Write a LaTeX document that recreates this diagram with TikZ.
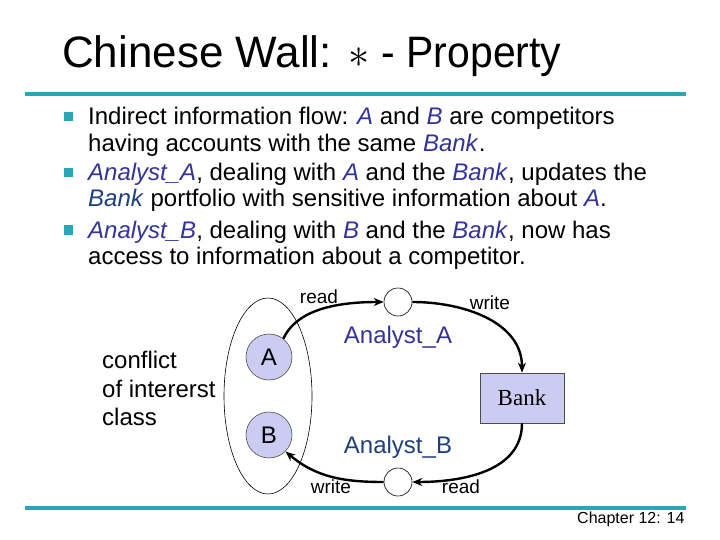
\documentclass[tikz,border=0pt]{standalone}
\usepackage{fontspec}
\setmainfont{Liberation Sans}
\newfontfamily\serifbank{Liberation Serif}
\usetikzlibrary{arrows.meta}
\definecolor{tealline}{HTML}{2AA6B6}
\definecolor{italblue}{HTML}{333399}
\definecolor{navyblue}{HTML}{1F3F7F}
\definecolor{lav}{HTML}{CCCCF2}
\newcommand\emc[1]{\textcolor{italblue}{\textit{#1}}}
\newcommand\emn[1]{\textcolor{navyblue}{\textit{#1}}}
\begin{document}
\begin{tikzpicture}[x=1pt,y=-1pt,
  txt/.style={anchor=base west,inner sep=0pt,font=\fontsize{24}{27}\selectfont},
  lbl/.style={anchor=base,inner sep=0pt,font=\fontsize{19}{22}\selectfont},
  bul/.style={fill=tealline,minimum size=9pt,inner sep=0pt},
  rule/.style={tealline,line width=4pt},
  ent/.style={circle,draw=black!70,line width=0.6pt,fill=lav,minimum size=46pt,inner sep=0pt,font=\fontsize{24}{27}\selectfont},
  smallc/.style={circle,draw=black,line width=0.6pt,fill=white,minimum size=28pt,inner sep=0pt},
  arr/.style={line width=2.4pt,-{Stealth[length=10pt,width=8pt]}}]
\useasboundingbox (0,0) rectangle (720,540);
\fill[white] (0,0) rectangle (720,540);
% title and rules
\node[anchor=base west,inner sep=0pt,font=\fontsize{44}{50}\selectfont] (title) at (62,68) {Chinese Wall: \raisebox{0.5pt}{\scalebox{1.7}{$\ast$}} \scalebox{0.93}[1]{- Property}};
\draw[rule] (25,94.5) -- (686,94.5);
\draw[rule] (25,507.5) -- (686,507.5);
% bullets
\node[bul] (b1) at (68.5,117) {};
\node[bul] (b2) at (68.5,173) {};
\node[bul] (b3) at (68.5,230) {};
\node[txt] (l1) at (88,125) {Indirect information flow: \emc{A} and \emc{B} are competitors};
\node[txt] (l2) at (88,152) {having accounts with the same \emc{Bank}.};
\node[txt] (l3) at (88,181) {\emc{Analyst\_A}, dealing with \emc{A} and the \emc{Bank}, updates the};
\node[txt] (l4) at (88,207) {\emn{Bank} portfolio with sensitive information about \emc{A}.};
\node[txt] (l5) at (88,238) {\emc{Analyst\_B}, dealing with \emc{B} and the \emc{Bank}, now has};
\node[txt] (l6) at (88,264) {access to information about a competitor.};
% conflict of interest class
\node[txt] (c1) at (102,368) {conflict};
\node[txt] (c2) at (102,397) {of intererst};
\node[txt] (c3) at (102,425) {class};
\draw[line width=0.6pt] (268,396) ellipse [x radius=44,y radius=98];
% entities
\node[ent] (A) at (269,357) {A};
\node[ent] (B) at (269,435) {B};
\node[smallc] (topc) at (398,302) {};
\node[smallc] (botc) at (398,482) {};
\node[draw=black!70,line width=0.6pt,fill=lav,minimum width=84pt,minimum height=50pt,inner sep=0pt,font=\serifbank\fontsize{23}{26}\selectfont] (bank) at (522,398) {Bank};
% labels
\node[lbl] (rd1) at (319,303) {read};
\node[lbl] (wr1) at (490,309) {write};
\node[lbl] (wr2) at (331,493) {write};
\node[lbl] (rd2) at (461,493) {read};
\node[anchor=base,inner sep=0pt,font=\fontsize{24}{27}\selectfont,text=italblue] (anA) at (398,343) {Analyst\_A};
\node[anchor=base,inner sep=0pt,font=\fontsize{24}{27}\selectfont,text=navyblue] (anB) at (398,453) {Analyst\_B};
% arrows
\draw[arr] (A.52) .. controls +(14,-30) and +(-45,0) .. (topc.west);
\draw[arr] (topc.east) to[out=0,in=90] (bank.north);
\draw[arr] (bank.south) to[out=-90,in=0] (botc.east);
\draw[arr] (botc.west) to[out=180,in=-40] (B.-45);
% footer
\node[anchor=base west,inner sep=0pt,font=\fontsize{16}{18}\selectfont] (foot) at (577,523) {Chapter 12: 14};
\end{tikzpicture}
\end{document}
